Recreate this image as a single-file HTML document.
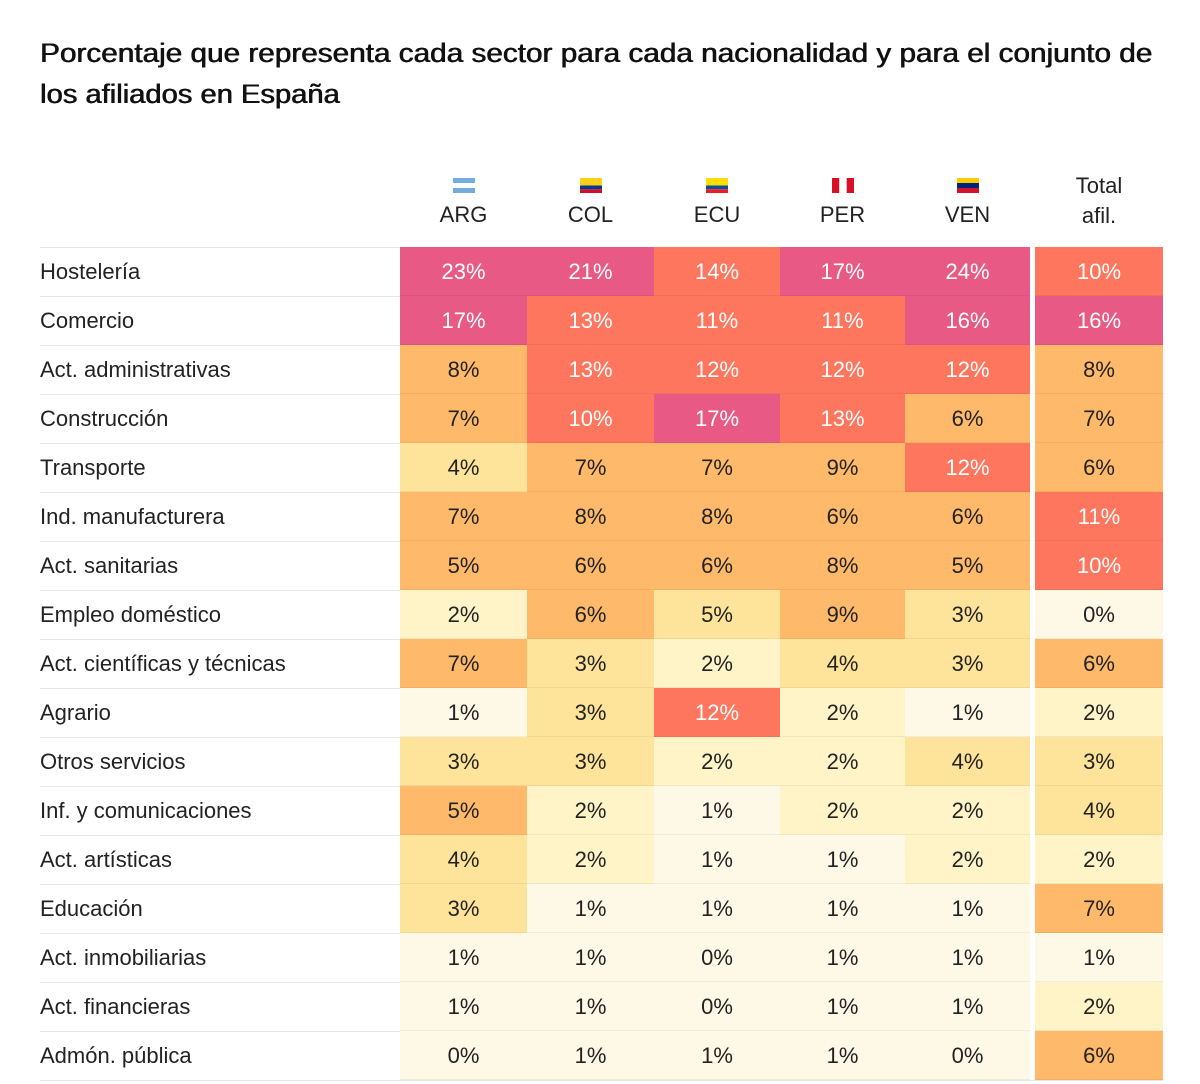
<!DOCTYPE html>
<html><head><meta charset="utf-8">
<style>
body{margin:0;background:#fff;width:1200px;height:1084px;overflow:hidden;font-family:"Liberation Sans",sans-serif;color:#222;}
.title{position:absolute;left:40px;font-size:27px;font-weight:normal;color:#111;text-shadow:0.5px 0 0 #111,-0.2px 0 0 #111;white-space:nowrap;transform-origin:left center;}
.hdr{position:absolute;text-align:center;font-size:22px;color:#222;}
.lbl{position:absolute;left:40px;width:360px;font-size:22px;line-height:49px;white-space:nowrap;}
.line{position:absolute;left:40px;height:1px;background:#e6e6e6;}
.cell{position:absolute;text-align:center;font-size:22px;line-height:49px;box-sizing:border-box;border-bottom:1px solid rgba(0,0,0,0.05);}
</style></head><body>
<div class="title" id="t1" style="top:38px">Porcentaje que representa cada sector para cada nacionalidad y para el conjunto de</div>
<div class="title" id="t2" style="top:79px">los afiliados en España</div>
<div id="grid"></div>
<script>
const sectors=["Hostelería","Comercio","Act. administrativas","Construcción","Transporte","Ind. manufacturera","Act. sanitarias","Empleo doméstico","Act. científicas y técnicas","Agrario","Otros servicios","Inf. y comunicaciones","Act. artísticas","Educación","Act. inmobiliarias","Act. financieras","Admón. pública"];
const columns=["ARG","COL","ECU","PER","VEN","Total"];
const ARG=[23,17,8,7,4,7,5,2,7,1,3,5,4,3,1,1,0];
const COL=[21,13,13,10,7,8,6,6,3,3,3,2,2,1,1,1,1];
const ECU=[14,11,12,17,7,8,6,4.6,2,12,2,1,1,1,0,0,1];
const PER=[17,11,12,13,9,6,8,9,4,2,2,2,1,1,1,1,1];
const VEN=[24,16,12,6,12,6,5,3,3,1,4,2,2,1,1,1,0];
const TOTAL=[10,16,8,7,6,11,10,0,6,2,3,4,2,7,1,2,6];
const series=[ARG,COL,ECU,PER,VEN,TOTAL];

function fit(id,w){const e=document.getElementById(id);e.style.transform='scaleX('+(w/e.offsetWidth)+')';}
fit('t1',1112);fit('t2',300);

const g=document.getElementById('grid');
const top0=247,rowH=49,colX=[400,527,654,780,905,1035],colW=[127,127,126,125,125,128];
function color(v){if(v>=15.5)return'#e85a85';if(v>=9.5)return'#fe765d';if(v>=4.75)return'#feb96a';if(v>=2.5)return'#fee39a';if(v>=1.5)return'#fff3c8';return'#fef8e7';}
function flag(c){
 const s={ARG:['#74acdf','#fff','#74acdf'],COL:['#fcd116','#003893','#ce1126'],ECU:['#ffdd00','#034ea2','#ed1c24'],PER:['#d91023','#fff','#d91023'],VEN:['#ffcc00','#00247d','#cf142b']}[c];
 if(c==='PER')return '<svg width="22" height="15"><rect x="0" y="0" width="7.3" height="15" fill="'+s[0]+'"/><rect x="7.3" y="0" width="7.4" height="15" fill="#fff"/><rect x="14.7" width="7.3" height="15" fill="'+s[2]+'"/></svg>';
 const h=(c==='COL'||c==='ECU')?[7.5,3.75,3.75]:[5,5,5];
 return '<svg width="22" height="15"><rect y="0" width="22" height="'+h[0]+'" fill="'+s[0]+'"/><rect y="'+h[0]+'" width="22" height="'+h[1]+'" fill="'+s[1]+'"/><rect y="'+(h[0]+h[1])+'" width="22" height="'+h[2]+'" fill="'+s[2]+'"/></svg>';
}
columns.forEach((c,j)=>{
 const d=document.createElement('div');d.className='hdr';
 
 
 d.style.left=colX[j]+'px';d.style.width=colW[j]+'px';
 if(c==='Total'){d.style.top='171px';d.style.lineHeight='30px';d.innerHTML='Total<br>afil.';}
 else{d.style.top='173px';d.innerHTML='<div style="height:20px">'+flag(c)+'</div><div style="margin-top:9px">'+c+'</div>';}
 g.appendChild(d);
});
sectors.forEach((s,i)=>{
 const y=top0+i*rowH;
 const ln=document.createElement('div');ln.className='line';
 
 
 ln.style.top=y+'px';ln.style.width='360px';g.appendChild(ln);
 const l=document.createElement('div');l.className='lbl';
 
 
 l.style.top=y+'px';l.textContent=s;g.appendChild(l);
 series.forEach((arr,j)=>{
  const v=arr[i];const c=document.createElement('div');c.className='cell';
  
  
  c.style.left=colX[j]+'px';c.style.width=colW[j]+'px';c.style.top=y+'px';c.style.height=rowH+'px';
  c.style.background=color(v);c.style.color=v>=9.5?'#fff':'#222';
  c.textContent=Math.round(v)+'%';g.appendChild(c);
 });
});
const ln=document.createElement('div');ln.className='line';


ln.style.top=(top0+sectors.length*rowH)+'px';ln.style.width='1123px';g.appendChild(ln);
</script>
</body></html>
